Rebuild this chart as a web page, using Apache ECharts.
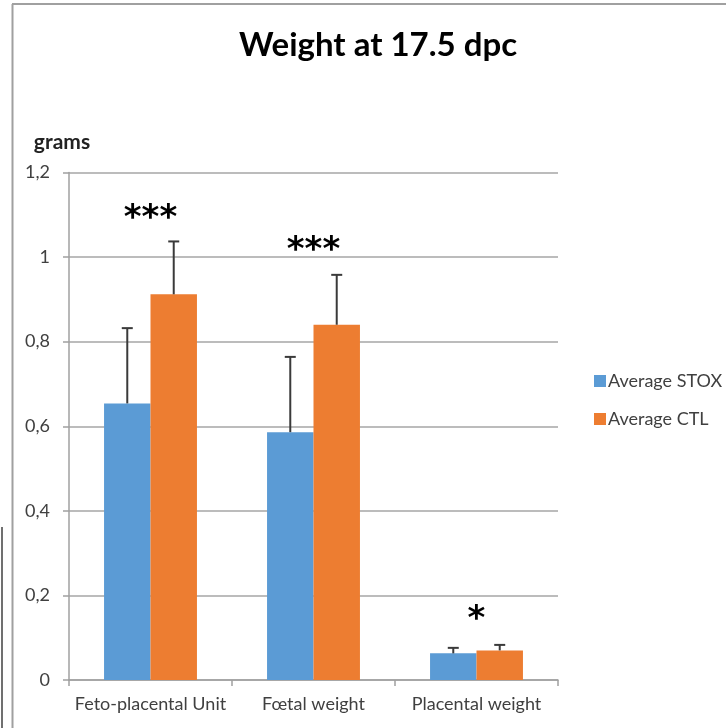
<!DOCTYPE html>
<html>
<head>
<meta charset="utf-8">
<script src="https://cdn.jsdelivr.net/npm/echarts@6/dist/echarts.min.js"></script>
<style>
  html, body { margin: 0; padding: 0; background: #fff; }
  #chart { width: 726px; height: 728px; }
</style>
</head>
<body>
<div id="chart"></div>
<script>
// Weights at 17.5 dpc (grams), mean and upper SD per group
const categories = ['Feto-placental Unit', 'Fœtal weight', 'Placental weight'];
const stoxMean = [0.654, 0.586, 0.063];
const stoxErr = [0.178, 0.178, 0.013];
const ctlMean = [0.912, 0.840, 0.070];
const ctlErr = [0.125, 0.118, 0.013];
// Significance markers and the value height where each is placed
const sigLabels = ['***', '***', '*'];
const sigY = [1.09, 1.014, 0.142];
const yTicks = [0, 0.2, 0.4, 0.6, 0.8, 1, 1.2];

const FONT = 'Lato, "Open Sans", sans-serif';
const TEXT = '#404040';
const GAP = 0.43; // barCategoryGap share

function errorBars(means, errs, side) {
  return {
    type: 'custom',
    z: 5,
    silent: true,
    data: means.map((m, i) => [i, m, m + errs[i]]),
    renderItem: function (params, api) {
      const i = api.value(0);
      const catW = api.size([1, 0])[0];
      const bw = catW * (1 - GAP) / 2;
      const base = api.coord([i, api.value(1)]);
      const top = api.coord([i, api.value(2)]);
      const x = base[0] + side * bw / 2;
      const style = { stroke: '#3a3a3a', lineWidth: 2 };
      return {
        type: 'group',
        children: [
          { type: 'line', shape: { x1: x, y1: base[1], x2: x, y2: top[1] }, style: style },
          { type: 'line', shape: { x1: x - 5.5, y1: top[1], x2: x + 5.5, y2: top[1] }, style: style }
        ]
      };
    }
  };
}

const chart = echarts.init(document.getElementById('chart'));
chart.setOption({
  animation: false,
  backgroundColor: '#ffffff',
  title: {
    text: 'Weight at 17.5 dpc',
    left: 373,
    textAlign: 'center',
    top: 24,
    textStyle: { fontFamily: FONT, fontSize: 33, fontWeight: 'bold', color: '#000' }
  },
  legend: {
    orient: 'vertical',
    left: 589,
    top: 367,
    icon: 'rect',
    itemWidth: 12,
    itemHeight: 12,
    itemGap: 20,
    textStyle: { fontFamily: FONT, fontSize: 18, color: TEXT, padding: [0, 0, 0, -3] },
    data: ['Average STOX', 'Average CTL']
  },
  grid: { left: 69, right: 168, top: 172.5, bottom: 48, containLabel: false },
  xAxis: {
    type: 'category',
    data: categories,
    axisLine: { lineStyle: { color: '#a0a0a0', width: 1.5 } },
    axisTick: { show: true, length: 6, lineStyle: { color: '#a0a0a0', width: 1.5 } },
    axisLabel: { interval: 0, fontFamily: FONT, fontSize: 18, color: TEXT, margin: 15 }
  },
  yAxis: {
    type: 'value',
    min: 0,
    max: 1.2,
    interval: 0.2,
    name: 'grams',
    nameLocation: 'end',
    nameGap: 20,
    nameTextStyle: { fontFamily: FONT, fontSize: 21, fontWeight: 'bold', color: '#222', align: 'center', padding: [0, 0, 0, -14] },
    axisLine: { show: true, lineStyle: { color: '#a0a0a0', width: 1.5 } },
    axisTick: { show: true, length: 6, lineStyle: { color: '#a0a0a0', width: 1.5 } },
    splitLine: { lineStyle: { color: '#a6a6a6', width: 1.5 } },
    axisLabel: {
      fontFamily: FONT, fontSize: 18, color: TEXT, margin: 19,
      formatter: function (v) {
        const t = yTicks.find(x => Math.abs(x - v) < 1e-9);
        return String(t !== undefined ? t : v).replace('.', ',');
      }
    }
  },
  series: [
    {
      name: 'Average STOX',
      type: 'bar',
      data: stoxMean,
      barGap: '0%',
      barCategoryGap: '43%',
      itemStyle: { color: '#5B9BD5' }
    },
    {
      name: 'Average CTL',
      type: 'bar',
      data: ctlMean,
      barGap: '0%',
      barCategoryGap: '43%',
      itemStyle: { color: '#ED7D31' }
    },
    errorBars(stoxMean, stoxErr, -1),
    errorBars(ctlMean, ctlErr, 1),
    {
      type: 'custom',
      z: 6,
      silent: true,
      data: sigY.map((y, i) => [i, y]),
      renderItem: function (params, api) {
        const p = api.coord([api.value(0), api.value(1)]);
        return {
          type: 'text',
          x: p[0],
          y: p[1],
          style: {
            text: sigLabels[params.dataIndex],
            fontFamily: '"DejaVu Sans", sans-serif',
            fontSize: 34,
            fontWeight: 'bold',
            fill: '#000',
            align: 'center',
            verticalAlign: 'middle'
          }
        };
      }
    }
  ],
  graphic: [
    { type: 'line', shape: { x1: 12, y1: 4, x2: 726, y2: 4 }, style: { stroke: '#a0a0a0', lineWidth: 2 }, silent: true },
    { type: 'line', shape: { x1: 12.5, y1: 4, x2: 12.5, y2: 728 }, style: { stroke: '#a0a0a0', lineWidth: 2 }, silent: true },
    { type: 'line', shape: { x1: 2, y1: 527, x2: 2, y2: 728 }, style: { stroke: '#404040', lineWidth: 1.5 }, silent: true }
  ]
});
</script>
</body>
</html>
